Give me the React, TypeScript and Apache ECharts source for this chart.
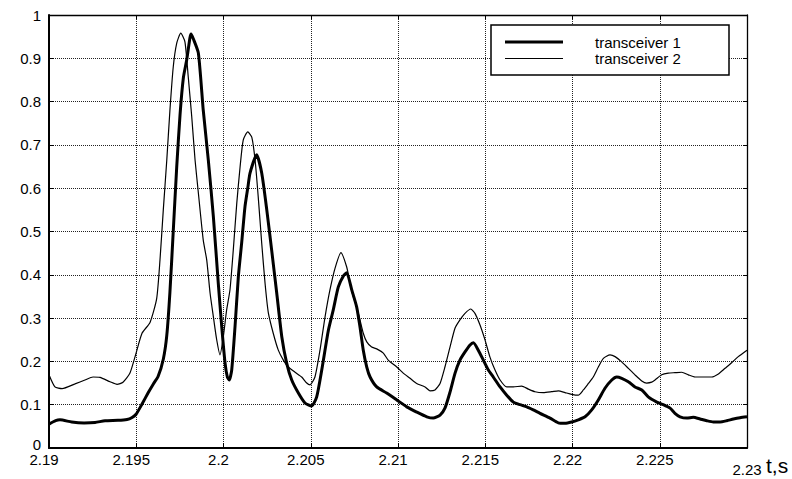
import React, { useEffect, useRef } from "react";
import * as echarts from "echarts";

const FONT = "'Liberation Sans', Arial, Helvetica, sans-serif";

// transceiver 1 (thick line): time, s
const T1 = [
  2.19, 2.19038, 2.19063, 2.1913, 2.19201, 2.19264, 2.19321, 2.19395, 2.19447, 2.19474,
  2.19499, 2.19531, 2.19569, 2.19598, 2.19625, 2.19655, 2.19675, 2.19693, 2.19712, 2.19732,
  2.19751, 2.1977, 2.19789, 2.19808, 2.19814, 2.19827, 2.19856, 2.19884, 2.19913, 2.19942,
  2.1997, 2.1999, 2.20009, 2.20022, 2.20033, 2.20047, 2.20066, 2.20085, 2.20104, 2.20123,
  2.2014, 2.20152, 2.2019, 2.20219, 2.20248, 2.20276, 2.20305, 2.20334, 2.20362, 2.20391,
  2.20429, 2.20467, 2.20505, 2.20534, 2.20563, 2.20601, 2.20629, 2.20658, 2.20687, 2.20706,
  2.20735, 2.20763, 2.20782, 2.20801, 2.20821, 2.2084, 2.20878, 2.20935, 2.20993, 2.2105,
  2.21107, 2.21165, 2.21202, 2.21241, 2.21269, 2.21298, 2.21327, 2.21355, 2.21384, 2.21413,
  2.21432, 2.2146, 2.21489, 2.21518, 2.21546, 2.21585, 2.21623, 2.21661, 2.21699, 2.21738,
  2.21775, 2.21814, 2.21871, 2.21919, 2.21957, 2.21995, 2.22033, 2.22072, 2.2211, 2.22148,
  2.22186, 2.22225, 2.22253, 2.22282, 2.2232, 2.22358, 2.22397, 2.22434, 2.22483, 2.2252,
  2.22559, 2.22587, 2.22616, 2.22655, 2.22692, 2.22731, 2.22769, 2.22807, 2.22845, 2.22884,
  2.22922, 2.2296, 2.23,
];
// transceiver 1 (thick line): value
const V1 = [
  0.055, 0.063, 0.065, 0.06, 0.058, 0.059, 0.063, 0.064, 0.066, 0.07,
  0.078, 0.1, 0.128, 0.148, 0.165, 0.205, 0.26, 0.36, 0.5, 0.65,
  0.77, 0.855, 0.896, 0.948, 0.956, 0.945, 0.912, 0.78, 0.665, 0.534,
  0.381, 0.28, 0.196, 0.164, 0.157, 0.18, 0.28, 0.395, 0.473, 0.557,
  0.603, 0.635, 0.677, 0.635, 0.55, 0.457, 0.358, 0.257, 0.196, 0.157,
  0.127, 0.104, 0.097, 0.118, 0.18, 0.272, 0.319, 0.372, 0.397, 0.405,
  0.365, 0.326, 0.28, 0.226, 0.187, 0.164, 0.141, 0.127, 0.111, 0.095,
  0.083, 0.072, 0.069, 0.076, 0.092, 0.129, 0.173, 0.203, 0.222, 0.238,
  0.243, 0.226, 0.203, 0.18, 0.164, 0.141, 0.122, 0.106, 0.1, 0.095,
  0.088, 0.08, 0.069, 0.058, 0.057, 0.06, 0.065, 0.072, 0.088, 0.111,
  0.138, 0.157, 0.164, 0.161, 0.153, 0.141, 0.134, 0.118, 0.106, 0.1,
  0.092, 0.08, 0.072, 0.069, 0.071, 0.067, 0.063, 0.06, 0.06, 0.063,
  0.067, 0.07, 0.072,
];

// transceiver 2 (thin line): time, s
const T2 = [
  2.19, 2.19034, 2.19075, 2.19149, 2.19206, 2.19252, 2.19292, 2.1935, 2.1939, 2.19424,
  2.19464, 2.19499, 2.19533, 2.19579, 2.19617, 2.19636, 2.19655, 2.19675, 2.19693, 2.19712,
  2.19732, 2.19755, 2.19779, 2.19798, 2.19818, 2.19837, 2.19856, 2.19884, 2.19904, 2.19923,
  2.19942, 2.19961, 2.1998, 2.19999, 2.20018, 2.20037, 2.20056, 2.20076, 2.20095, 2.20113,
  2.20139, 2.20162, 2.20181, 2.20199, 2.20219, 2.20238, 2.20257, 2.20285, 2.20314, 2.20343,
  2.20371, 2.2041, 2.20448, 2.20477, 2.20496, 2.20524, 2.20553, 2.20582, 2.2061, 2.20639,
  2.20673, 2.20706, 2.20725, 2.20744, 2.20763, 2.20782, 2.20801, 2.20821, 2.20849, 2.20878,
  2.20916, 2.20944, 2.20993, 2.2103, 2.21069, 2.21107, 2.21155, 2.21183, 2.21212, 2.21241,
  2.21269, 2.21298, 2.21327, 2.21355, 2.21384, 2.21417, 2.21441, 2.2147, 2.21499, 2.21527,
  2.21556, 2.21585, 2.21623, 2.21661, 2.21709, 2.21747, 2.21785, 2.21833, 2.21881, 2.21919,
  2.21957, 2.21995, 2.22033, 2.22062, 2.22091, 2.22119, 2.22148, 2.22177, 2.22215, 2.22244,
  2.22282, 2.2232, 2.22358, 2.22397, 2.22425, 2.22454, 2.22473, 2.22511, 2.22549, 2.22587,
  2.22626, 2.22664, 2.22702, 2.2275, 2.22798, 2.22836, 2.22874, 2.22912, 2.2295, 2.23,
];
// transceiver 2 (thin line): value
const V2 = [
  0.169, 0.141, 0.137, 0.148, 0.157, 0.164, 0.163, 0.153, 0.147, 0.152,
  0.173, 0.219, 0.265, 0.29, 0.345, 0.434, 0.55, 0.665, 0.78, 0.88,
  0.935, 0.958, 0.938, 0.857, 0.765, 0.665, 0.589, 0.48, 0.434, 0.358,
  0.303, 0.25, 0.215, 0.257, 0.319, 0.365, 0.457, 0.565, 0.649, 0.711,
  0.73, 0.718, 0.665, 0.58, 0.473, 0.381, 0.312, 0.265, 0.226, 0.203,
  0.187, 0.175, 0.164, 0.15, 0.146, 0.164, 0.226, 0.303, 0.365, 0.415,
  0.451, 0.418, 0.381, 0.349, 0.326, 0.296, 0.265, 0.245, 0.233, 0.229,
  0.219, 0.203, 0.187, 0.173, 0.161, 0.149, 0.141, 0.132, 0.134, 0.149,
  0.187, 0.233, 0.277, 0.296, 0.311, 0.321, 0.311, 0.284, 0.249, 0.21,
  0.18, 0.157, 0.141, 0.141, 0.143, 0.136, 0.13, 0.128, 0.13, 0.132,
  0.128, 0.124, 0.122, 0.134, 0.149, 0.164, 0.187, 0.207, 0.215, 0.211,
  0.199, 0.184, 0.169, 0.155, 0.15, 0.152, 0.157, 0.169, 0.173, 0.174,
  0.175, 0.169, 0.164, 0.164, 0.164, 0.171, 0.184, 0.197, 0.211, 0.226,
];

const SERIES_NAMES = ["transceiver 1", "transceiver 2"];
const SERIES_WIDTHS = [3, 1.2];
const X_MIN = 2.19;
const X_MAX = 2.23;
const X_STEP = 0.005;
const Y_MIN = 0;
const Y_MAX = 1;
const Y_STEP = 0.1;
const X_LAST_LABEL = "2.23";
const X_UNIT = "t,s";

const zip = (t: number[], v: number[]) => t.map((x, i) => [x, v[i]]);

export default function App() {
  const ref = useRef<HTMLDivElement>(null);
  useEffect(() => {
    if (!ref.current) return;
    const chart = echarts.init(ref.current, undefined, { renderer: "svg" });
    const fmtX = (v: number) =>
      Math.abs(v - X_MAX) < 1e-9 ? "" : String(parseFloat(v.toFixed(3)));
    const fmtY = (v: number) =>
      Math.abs(v) < 1e-9 ? "{zero|0}" : String(parseFloat(v.toFixed(2)));
    const axisLineStyle = { color: "#000", width: 2 };
    const thinAxisLine = { color: "#000", width: 1.3 };
    const gridLine = { color: "#222", type: "dotted" as const, width: 1 };

    const legendGraphics: any[] = [
      {
        type: "rect",
        z: 10,
        shape: { x: 491, y: 25, width: 238, height: 50 },
        style: { fill: "#fff", stroke: "#000", lineWidth: 1.5 },
      },
    ];
    SERIES_NAMES.forEach((name, i) => {
      const cy = 42 + i * 16.5;
      legendGraphics.push({
        type: "line",
        z: 11,
        shape: { x1: 505, y1: cy, x2: 563, y2: cy },
        style: { stroke: "#000", lineWidth: SERIES_WIDTHS[i] },
      });
      legendGraphics.push({
        type: "text",
        z: 11,
        x: 595,
        y: cy,
        style: {
          text: name,
          fill: "#000",
          font: `15px ${FONT}`,
          textAlign: "left",
          textVerticalAlign: "middle",
        },
      });
    });

    chart.setOption({
      animation: false,
      backgroundColor: "#fff",
      textStyle: { fontFamily: FONT },
      grid: { left: 49, top: 15, right: 45, bottom: 31, containLabel: false },
      xAxis: [
        {
          type: "value",
          position: "bottom",
          min: X_MIN,
          max: X_MAX,
          interval: X_STEP,
          axisLine: { show: true, onZero: false, lineStyle: axisLineStyle },
          axisTick: { show: true, inside: true, length: 5, lineStyle: { color: "#000" } },
          axisLabel: {
            color: "#000",
            fontSize: 15,
            lineHeight: 13,
            fontFamily: FONT,
            margin: 5,
            padding: [0, 10, 0, 0],
            showMinLabel: true,
            showMaxLabel: true,
            formatter: fmtX,
          },
          splitLine: { show: true, lineStyle: gridLine },
        },
        {
          type: "value",
          position: "top",
          min: X_MIN,
          max: X_MAX,
          interval: X_STEP,
          axisLine: { show: true, onZero: false, lineStyle: thinAxisLine },
          axisTick: { show: true, inside: true, length: 4, lineStyle: { color: "#000" } },
          axisLabel: { show: false },
          splitLine: { show: false },
        },
      ],
      yAxis: [
        {
          type: "value",
          position: "left",
          min: Y_MIN,
          max: Y_MAX,
          interval: Y_STEP,
          axisLine: { show: true, onZero: false, lineStyle: axisLineStyle },
          axisTick: { show: true, inside: true, length: 5, lineStyle: { color: "#000" } },
          axisLabel: {
            color: "#000",
            fontSize: 15,
            lineHeight: 12,
            fontFamily: FONT,
            margin: 8,
            formatter: fmtY,
            rich: {
              zero: { fontSize: 15, lineHeight: 12, color: "#000", padding: [0, 0, 8, 0] },
            },
          },
          splitLine: { show: true, lineStyle: gridLine },
        },
        {
          type: "value",
          position: "right",
          min: Y_MIN,
          max: Y_MAX,
          interval: Y_STEP,
          axisLine: { show: true, onZero: false, lineStyle: thinAxisLine },
          axisTick: { show: true, inside: true, length: 4, lineStyle: { color: "#000" } },
          axisLabel: { show: false },
          splitLine: { show: false },
        },
      ],
      graphic: [
        ...legendGraphics,
        {
          type: "text",
          z: 10,
          x: 747,
          y: 469,
          style: {
            text: X_LAST_LABEL,
            fill: "#000",
            font: `15px ${FONT}`,
            textAlign: "center",
            textVerticalAlign: "middle",
          },
        },
        {
          type: "text",
          z: 10,
          x: 766,
          y: 465,
          style: {
            text: X_UNIT,
            fill: "#000",
            font: `21px ${FONT}`,
            textAlign: "left",
            textVerticalAlign: "middle",
          },
        },
      ],
      series: [
        {
          name: SERIES_NAMES[0],
          type: "line",
          data: zip(T1, V1),
          symbol: "none",
          smooth: 0.2,
          lineStyle: { color: "#000", width: SERIES_WIDTHS[0] },
          itemStyle: { color: "#000" },
        },
        {
          name: SERIES_NAMES[1],
          type: "line",
          data: zip(T2, V2),
          symbol: "none",
          smooth: 0.2,
          lineStyle: { color: "#000", width: SERIES_WIDTHS[1] },
          itemStyle: { color: "#000" },
        },
      ],
    });
    return () => chart.dispose();
  }, []);
  return (
    <div
      ref={ref}
      style={{ position: "fixed", left: 0, top: 0, width: 792, height: 479, background: "#fff" }}
    />
  );
}
